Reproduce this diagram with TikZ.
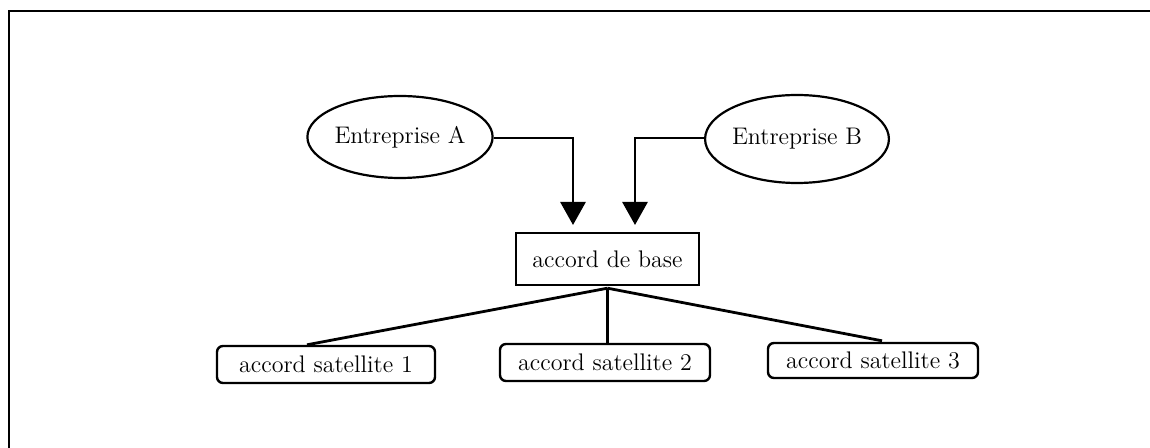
\documentclass[tikz,border=0pt]{standalone}
\usetikzlibrary{arrows.meta,shapes.geometric}
\begin{document}
\begin{tikzpicture}[x=0.5pt,y=-0.5pt,
  every node/.style={font=\fontsize{12}{14}\selectfont, inner sep=0pt},
  entre/.style={draw, line width=1.1pt, ellipse, minimum width=87pt, minimum height=41pt},
  basebox/.style={draw, line width=1.2pt, rectangle, minimum width=91.5pt, minimum height=26pt},
  satbox/.style={draw, line width=1.2pt, rectangle, rounded corners=3pt, minimum width=105pt, minimum height=18.5pt},
  conn/.style={line width=1.4pt},
  arr/.style={line width=1.4pt, -{Triangle[width=12.5pt,length=11.5pt]}}]
\useasboundingbox (0,0) rectangle (1150,448);
\draw[line width=1.1pt] (9,470) -- (9,11) -- (1170,11);
\node[entre] (A) at (400,137) {Entreprise A};
\node[entre, minimum width=85pt, minimum height=44pt] (B) at (797,139) {Entreprise B};
\node[basebox] (base) at (607.5,259) {accord de base};
\node[satbox, minimum width=109pt] (s1) at (326,364.5) {accord satellite 1};
\node[satbox] (s2) at (605,362.5) {accord satellite 2};
\node[satbox, minimum height=17.5pt] (s3) at (873,360.5) {accord satellite 3};
\coordinate (tA) at (573,225);
\coordinate (tB) at (635,225);
\draw[arr] (A.east |- 0,138) -| (tA);
\draw[arr] (B.west |- 0,138) -| (tB);
\coordinate (o) at ([yshift=-1pt]base.south);
\draw[conn] (o) -- ([xshift=-9.5pt]s1.north);
\draw[conn] (o) -- (o |- s2.north);
\draw[conn] (o) -- ([xshift=4.5pt,yshift=0.5pt]s3.north);
\end{tikzpicture}
\end{document}
